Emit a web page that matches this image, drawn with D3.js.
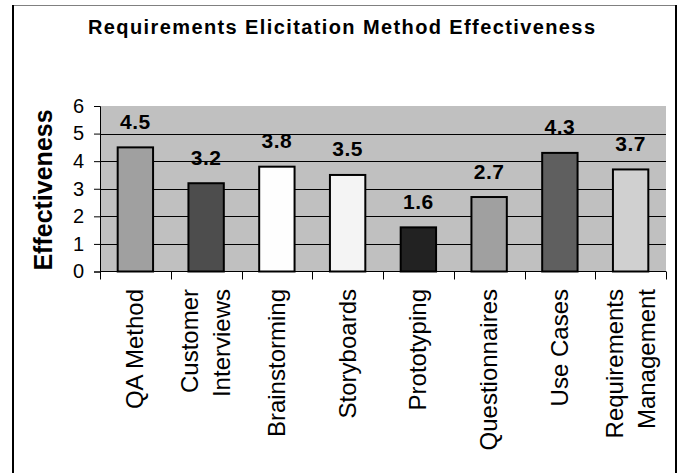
<!DOCTYPE html>
<html>
<head>
<meta charset="utf-8">
<script src="https://cdn.jsdelivr.net/npm/d3@7"></script>
<style>
  html, body { margin: 0; padding: 0; background: #fff; }
  svg { display: block; }
  text { font-family: "Liberation Sans", Arial, sans-serif; fill: #000; }
</style>
</head>
<body>
<svg id="chart" width="678" height="473"></svg>
<script>
const titleText = "Requirements Elicitation Method Effectiveness";
const yTitle = "Effectiveness";
const categories = [
  ["QA Method"],
  ["Customer", "Interviews"],
  ["Brainstorming"],
  ["Storyboards"],
  ["Prototyping"],
  ["Questionnaires"],
  ["Use Cases"],
  ["Requirements", "Management"]
];
const values = [4.5, 3.2, 3.8, 3.5, 1.6, 2.7, 4.3, 3.7];
const barColors = ["#a0a0a0", "#4d4d4d", "#fefefe", "#f4f4f4", "#222222", "#a0a0a0", "#5f5f5f", "#d0d0d0"];
const yTicks = [0, 1, 2, 3, 4, 5, 6];

const svg = d3.select("#chart");
const W = 678, H = 473;
const plot = { left: 100, right: 666, top: 106, bottom: 271.5 };

// outer frame
svg.append("line").attr("x1", 12).attr("x2", 677).attr("y1", 5.5).attr("y2", 5.5)
  .attr("stroke", "#808080").attr("stroke-width", 1);
svg.append("line").attr("x1", 13).attr("x2", 13).attr("y1", 5).attr("y2", H + 5)
  .attr("stroke", "#000").attr("stroke-width", 2);
svg.append("line").attr("x1", 676).attr("x2", 676).attr("y1", 5).attr("y2", H + 5)
  .attr("stroke", "#000").attr("stroke-width", 2);

// title
svg.append("text")
  .attr("x", 341.5).attr("y", 34)
  .attr("text-anchor", "middle")
  .attr("font-size", 20).attr("font-weight", "bold")
  .attr("textLength", 507).attr("lengthAdjust", "spacing")
  .text(titleText);

const x = d3.scaleBand().domain(d3.range(categories.length)).range([plot.left, plot.right]).paddingInner(0.5).paddingOuter(0.25);
const xb = d3.scaleBand().domain(d3.range(categories.length)).range([plot.left, plot.right]);
const y = d3.scaleLinear().domain([0, 6]).range([plot.bottom, plot.top]);

// plot background
svg.append("rect")
  .attr("x", plot.left).attr("y", plot.top)
  .attr("width", plot.right - plot.left).attr("height", plot.bottom - plot.top)
  .attr("fill", "#c0c0c0");

// gridlines
svg.append("g").selectAll("line").data(yTicks.filter(t => t > 0 && t < 6)).join("line")
  .attr("x1", plot.left).attr("x2", plot.right)
  .attr("y1", d => Math.round(y(d)) + 0.5).attr("y2", d => Math.round(y(d)) + 0.5)
  .attr("stroke", "#000").attr("stroke-width", 1);

// bars
svg.append("g").selectAll("rect").data(values).join("rect")
  .attr("x", (d, i) => x(i))
  .attr("y", d => y(d))
  .attr("width", x.bandwidth())
  .attr("height", d => y(0) - y(d))
  .attr("fill", (d, i) => barColors[i])
  .attr("stroke", "#000").attr("stroke-width", 2);

// value labels
svg.append("g").selectAll("text").data(values).join("text")
  .attr("x", (d, i) => x(i) + x.bandwidth() / 2)
  .attr("y", d => y(d) - 18.5)
  .attr("text-anchor", "middle")
  .attr("font-size", 21).attr("font-weight", "bold")
  .attr("letter-spacing", 0.5)
  .text(d => d.toFixed(1));

// y axis
const yAxis = d3.axisLeft(y).tickValues(yTicks).tickSize(6).tickPadding(10).tickFormat(d3.format("d"));
const gy = svg.append("g").attr("transform", `translate(${plot.left},0)`).call(yAxis);
gy.select(".domain").attr("stroke", "#000").attr("stroke-width", 1);
gy.selectAll(".tick line").attr("stroke", "#000");
gy.selectAll(".tick text").attr("font-size", 20).attr("font-family", "Liberation Sans, Arial, sans-serif").attr("fill", "#000");

// x axis line with ticks at band boundaries
svg.append("line").attr("x1", plot.left).attr("x2", plot.right)
  .attr("y1", plot.bottom).attr("y2", plot.bottom).attr("stroke", "#000");
const boundaries = d3.range(categories.length + 1).map(i => i === categories.length ? plot.right : xb(i));
svg.append("g").selectAll("line").data(boundaries).join("line")
  .attr("x1", d => Math.round(d) + 0.5).attr("x2", d => Math.round(d) + 0.5)
  .attr("y1", plot.bottom).attr("y2", plot.bottom + 8)
  .attr("stroke", "#000");

// category labels (rotated)
const lineH = 32;
const cat = svg.append("g").selectAll("g").data(categories).join("g")
  .attr("transform", (d, i) => `translate(${xb(i) + xb.bandwidth() / 2},289) rotate(-90)`);
cat.each(function (lines) {
  const g = d3.select(this);
  const n = lines.length;
  lines.forEach((ln, k) => {
    g.append("text")
      .attr("x", 0)
      .attr("y", (k - (n - 1) / 2) * lineH)
      .attr("dy", "0.33em")
      .attr("text-anchor", "end")
      .attr("font-size", 24)
      .text(ln);
  });
});

// y axis title
svg.append("text")
  .attr("transform", `translate(52,190) rotate(-90)`)
  .attr("text-anchor", "middle")
  .attr("font-size", 25).attr("font-weight", "bold")
  .text(yTitle);
</script>
</body>
</html>
